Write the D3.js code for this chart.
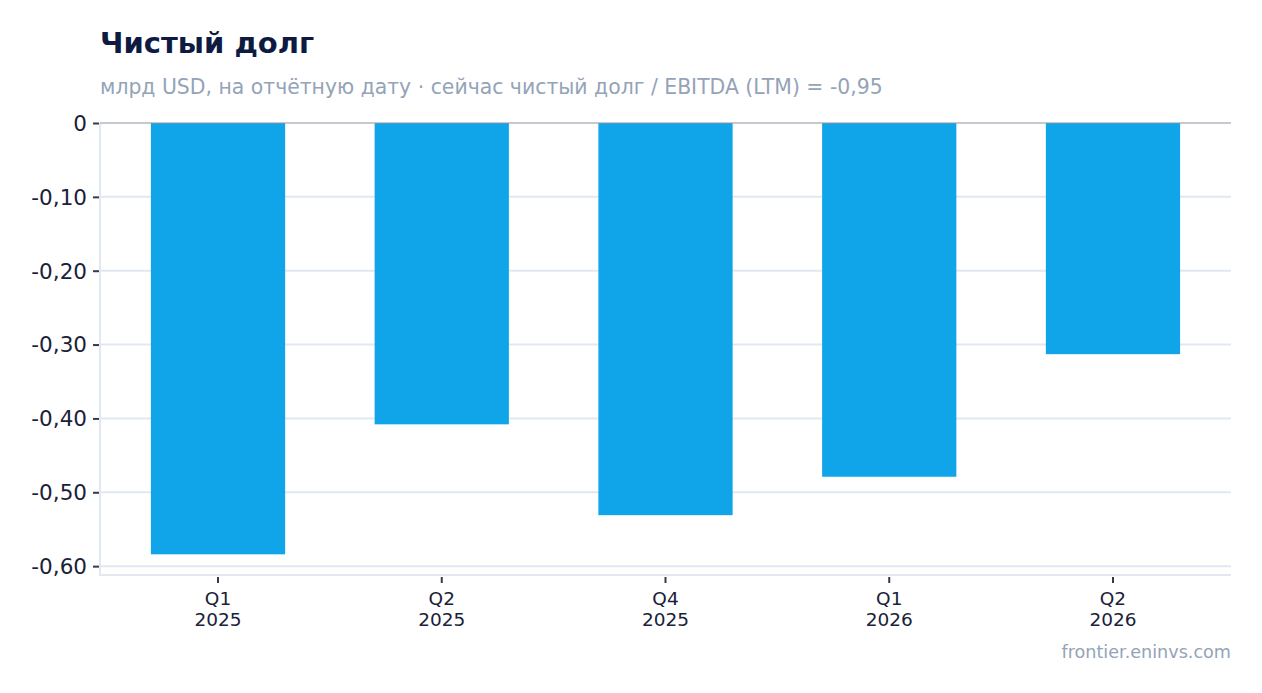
<!DOCTYPE html>
<html>
<head>
<meta charset="utf-8">
<script src="https://cdn.jsdelivr.net/npm/d3@7"></script>
<style>
  body { margin: 0; background: #fff; font-family: "DejaVu Sans", sans-serif; }
  svg text { font-family: "DejaVu Sans", sans-serif; }
</style>
</head>
<body>
<svg id="chart" width="1262" height="693"></svg>
<script>
"use strict";

const quarters = ["Q1", "Q2", "Q4", "Q1", "Q2"];
const years = ["2025", "2025", "2025", "2026", "2026"];
const netDebt = [-0.584, -0.408, -0.531, -0.479, -0.313];
const yTicks = [0, -0.1, -0.2, -0.3, -0.4, -0.5, -0.6];

const W = 1262, H = 693;
const m = {top: 123, right: 31, bottom: 118, left: 100};

const svg = d3.select("#chart");
const keys = quarters.map((q, i) => i);

const x = d3.scaleBand()
  .domain(keys)
  .range([m.left, W - m.right])
  .paddingInner(0.4)
  .paddingOuter(0.2275);

const y = d3.scaleLinear()
  .domain([-0.612, 0])
  .range([H - m.bottom, m.top]);

const fmt = v => v === 0 ? "0" : d3.format(".2f")(v).replace(".", ",").replace("−", "-");

// gridlines
svg.append("g")
  .selectAll("line")
  .data(yTicks.filter(t => t !== 0))
  .join("line")
  .attr("x1", m.left).attr("x2", W - m.right)
  .attr("y1", d => y(d)).attr("y2", d => y(d))
  .attr("stroke", "#e2e8f0").attr("stroke-width", 2);

// frame lines (left and bottom)
svg.append("line")
  .attr("x1", m.left).attr("x2", m.left)
  .attr("y1", m.top).attr("y2", y(-0.612) + 1)
  .attr("stroke", "#e2e8f0").attr("stroke-width", 2);
svg.append("line")
  .attr("x1", m.left).attr("x2", W - m.right)
  .attr("y1", y(-0.612)).attr("y2", y(-0.612))
  .attr("stroke", "#e2e8f0").attr("stroke-width", 2);

// bars
svg.append("g")
  .selectAll("rect")
  .data(netDebt)
  .join("rect")
  .attr("x", (d, i) => x(i))
  .attr("width", x.bandwidth())
  .attr("y", d => y(Math.max(0, d)))
  .attr("height", d => Math.abs(y(d) - y(0)))
  .attr("fill", "#10a5e8");

// zero line
svg.append("line")
  .attr("x1", m.left).attr("x2", W - m.right)
  .attr("y1", y(0)).attr("y2", y(0))
  .attr("stroke", "#8e95a2").attr("stroke-width", 1.2);

// y axis
const yAxis = svg.append("g")
  .attr("transform", `translate(${m.left - 1},0)`)
  .call(d3.axisLeft(y).tickValues(yTicks).tickFormat(fmt).tickSize(6).tickPadding(6));
yAxis.select(".domain").remove();
yAxis.selectAll(".tick line").attr("stroke", "#333a4d").attr("stroke-width", 2);
yAxis.selectAll(".tick text")
  .attr("fill", "#1a2238")
  .style("font-size", "21.5px")
  .attr("dy", "0.34em");

// x axis
const xAxis = svg.append("g")
  .attr("transform", `translate(0,${y(-0.612) + 2})`)
  .call(d3.axisBottom(x).tickSize(6).tickFormat(""));
xAxis.select(".domain").remove();
xAxis.selectAll(".tick line").attr("stroke", "#333a4d").attr("stroke-width", 2);
xAxis.selectAll(".tick").each(function(i) {
  const t = d3.select(this).append("text")
    .attr("fill", "#1a2238")
    .attr("text-anchor", "middle")
    .style("font-size", "18.5px");
  t.append("tspan").attr("x", 0).attr("y", 28).text(quarters[i]);
  t.append("tspan").attr("x", 0).attr("y", 49).text(years[i]);
});

// title & subtitle
svg.append("text")
  .attr("x", 100).attr("y", 53)
  .attr("fill", "#0d1a42")
  .style("font-size", "29px").style("font-weight", "bold")
  .text("Чистый долг");

svg.append("text")
  .attr("x", 100).attr("y", 94)
  .attr("fill", "#94a3b8")
  .style("font-size", "20.4px")
  .text("млрд USD, на отчётную дату · сейчас чистый долг / EBITDA (LTM) = -0,95");

// source
svg.append("text")
  .attr("x", W - m.right).attr("y", 658)
  .attr("text-anchor", "end")
  .attr("fill", "#94a3b8")
  .style("font-size", "17.6px")
  .text("frontier.eninvs.com");
</script>
</body>
</html>
